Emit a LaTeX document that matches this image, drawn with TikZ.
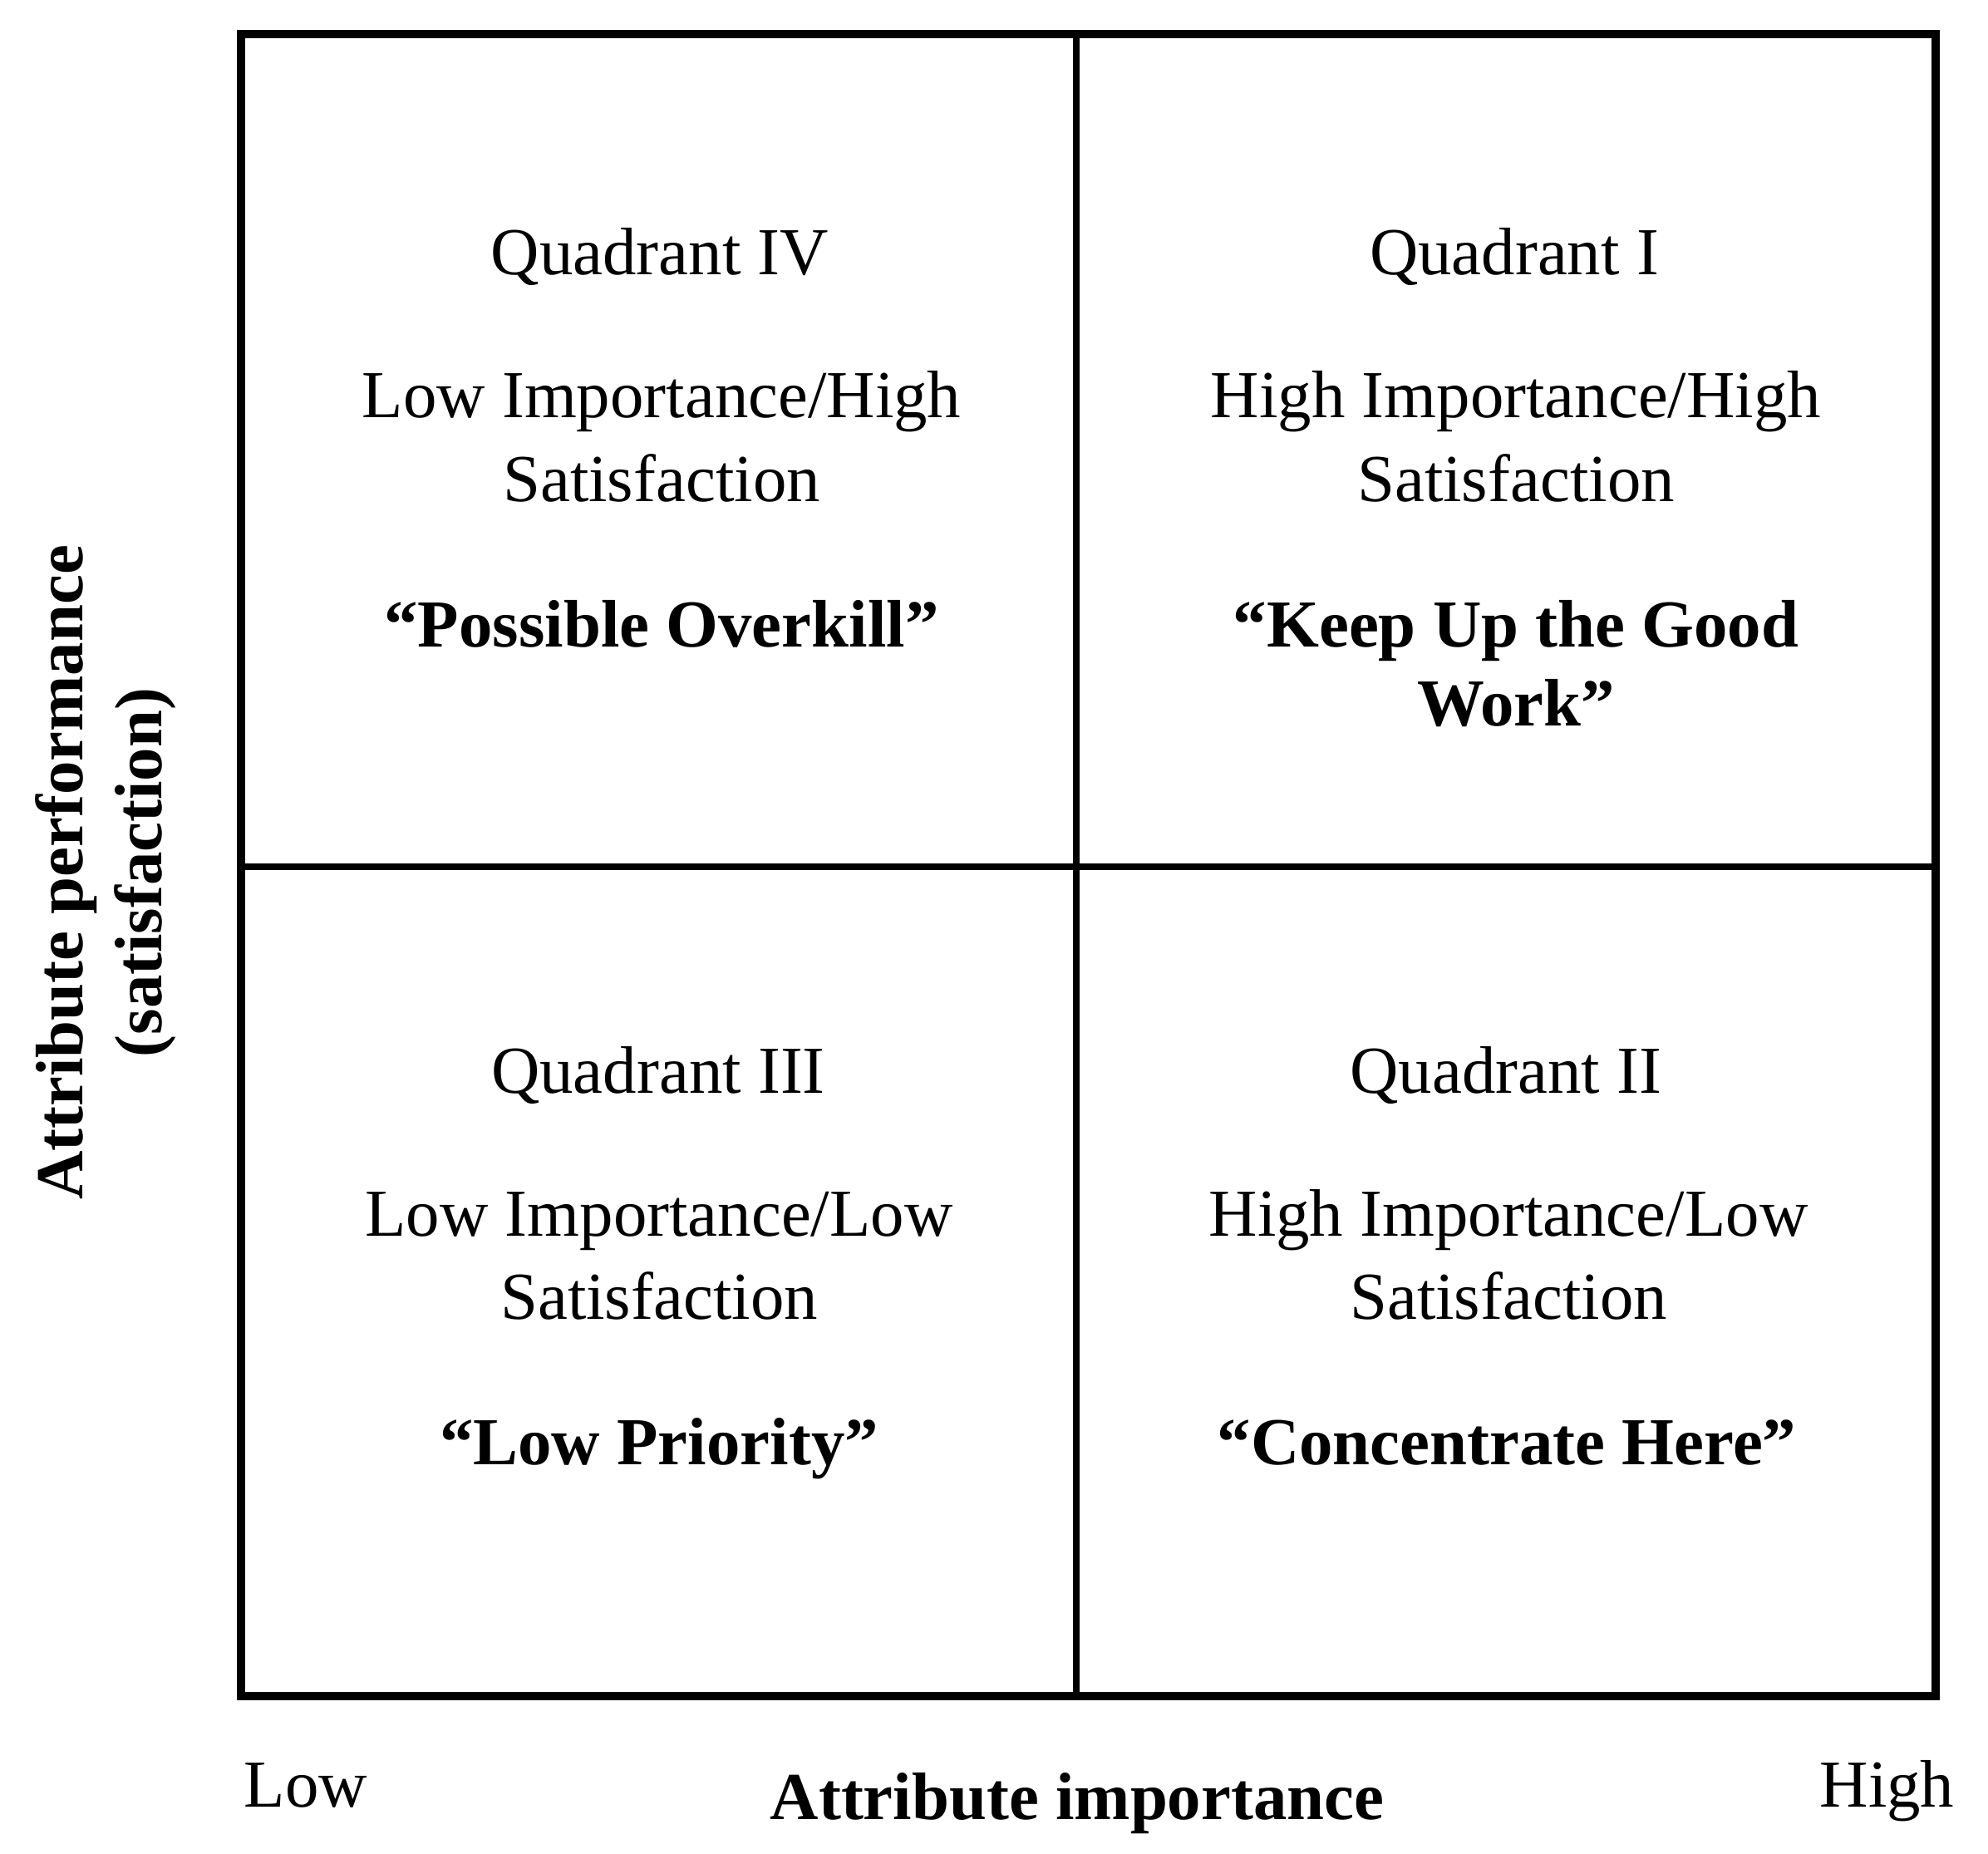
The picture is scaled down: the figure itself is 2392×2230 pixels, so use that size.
\documentclass[tikz,border=0pt]{standalone}
\usepackage{fontspec}
\setmainfont{Liberation Serif}
\begin{document}
\begin{tikzpicture}[x=0.1mm,y=-0.1mm,
  lbl/.style={anchor=base,inner sep=0pt,font=\fontsize{23}{28}\selectfont},
  blbl/.style={lbl,font=\fontsize{23}{28}\selectfont\bfseries},
  outer/.style={draw=black,line width=2.6pt},
  inner/.style={draw=black,line width=2.2pt}]
\useasboundingbox (0,0) rectangle (2392,2230);
\fill[white] (0,0) rectangle (2392,2230);
% frame
\coordinate (tl) at (290,41);
\coordinate (br) at (2329,2041);
\coordinate (tm) at (1295,41);
\coordinate (bm) at (1295,2041);
\coordinate (ml) at (290,1043);
\coordinate (mr) at (2329,1043);
\draw[inner] (tm) -- (bm);
\draw[inner] (ml) -- (mr);
\draw[outer] (tl) rectangle (br);
% Quadrant IV
\node[lbl]  (q4t) at (794,331) {Quadrant IV};
\node[lbl]  (q4a) at (796,503) {Low Importance/High};
\node[lbl]  (q4b) at (796,603) {Satisfaction};
\node[blbl] (q4c) at (796,778) {“Possible Overkill”};
% Quadrant I
\node[lbl]  (q1t) at (1822,331) {Quadrant I};
\node[lbl]  (q1a) at (1824,503) {High Importance/High};
\node[lbl]  (q1b) at (1824,603) {Satisfaction};
\node[blbl] (q1c) at (1824,778) {“Keep Up the Good};
\node[blbl] (q1d) at (1824,873) {Work”};
% Quadrant III
\node[lbl]  (q3t) at (792,1315) {Quadrant III};
\node[lbl]  (q3a) at (793,1487) {Low Importance/Low};
\node[lbl]  (q3b) at (793,1587) {Satisfaction};
\node[blbl] (q3c) at (793,1762) {“Low Priority”};
% Quadrant II
\node[lbl]  (q2t) at (1812,1315) {Quadrant II};
\node[lbl]  (q2a) at (1815,1487) {High Importance/Low};
\node[lbl]  (q2b) at (1815,1587) {Satisfaction};
\node[blbl] (q2c) at (1813,1762) {“Concentrate Here”};
% axes labels
\node[lbl,anchor=base west] (low) at (293,2174) {Low};
\node[lbl,anchor=base east] (high) at (2352,2174) {High};
\node[blbl] (xlab) at (1296,2189) {Attribute importance};
\node[blbl,rotate=90] (ylab1) at (99,1050) {Attribute performance};
\node[blbl,rotate=90] (ylab2) at (194,1050) {(satisfaction)};
\end{tikzpicture}
\end{document}
